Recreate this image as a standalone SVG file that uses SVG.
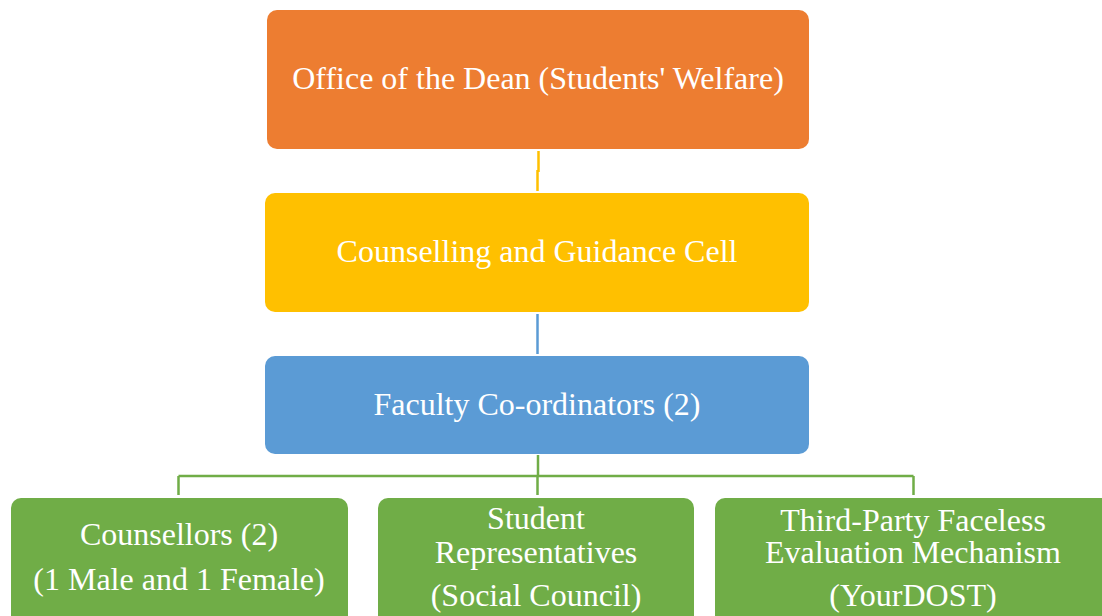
<svg xmlns="http://www.w3.org/2000/svg" width="1102" height="616" viewBox="0 0 1102 616">
<style>
.t{font-size:32px;fill:#ffffff;text-anchor:middle}
.g{fill:#70ad47}
</style>
<rect width="1102" height="616" fill="#ffffff"/>
<g id="connectors" fill="none" stroke-width="2.5">
<path d="M538.5 151 V172 M537.5 170 V191" stroke="#ffc000"/>
<path d="M537.5 314 V354" stroke="#5b9bd5"/>
<path d="M538 455 V476 M178.5 476 H913.5 M178.5 476 V495 M537.5 476 V495 M913.5 476 V495" stroke="#70ad47"/>
</g>
<g font-family="Liberation Serif, serif">
<g id="dean">
<rect x="267" y="10" width="542" height="139" rx="10" fill="#ed7d31"/>
<text class="t" x="538" y="89">Office of the Dean (Students' Welfare)</text>
</g>
<g id="cell">
<rect x="265" y="193" width="544" height="119" rx="10" fill="#ffc000"/>
<text class="t" x="537" y="262">Counselling and Guidance Cell</text>
</g>
<g id="faculty">
<rect x="265" y="356" width="544" height="98" rx="10" fill="#5b9bd5"/>
<text class="t" x="537" y="415">Faculty Co-ordinators (2)</text>
</g>
<g id="counsellors">
<rect class="g" x="11" y="498" width="337" height="140" rx="10"/>
<text class="t" x="179" y="545">Counsellors (2)</text>
<text class="t" x="179" y="590">(1 Male and 1 Female)</text>
</g>
<g id="students">
<rect class="g" x="378" y="498" width="316" height="140" rx="10"/>
<text class="t" x="536" y="529">Student</text>
<text class="t" x="536" y="563">Representatives</text>
<text class="t" x="536" y="606">(Social Council)</text>
</g>
<g id="thirdparty">
<rect class="g" x="715" y="498" width="420" height="140" rx="10"/>
<text class="t" x="913" y="531">Third-Party Faceless</text>
<text class="t" x="913" y="563">Evaluation Mechanism</text>
<text class="t" x="913" y="606">(YourDOST)</text>
</g>
</g>
</svg>
